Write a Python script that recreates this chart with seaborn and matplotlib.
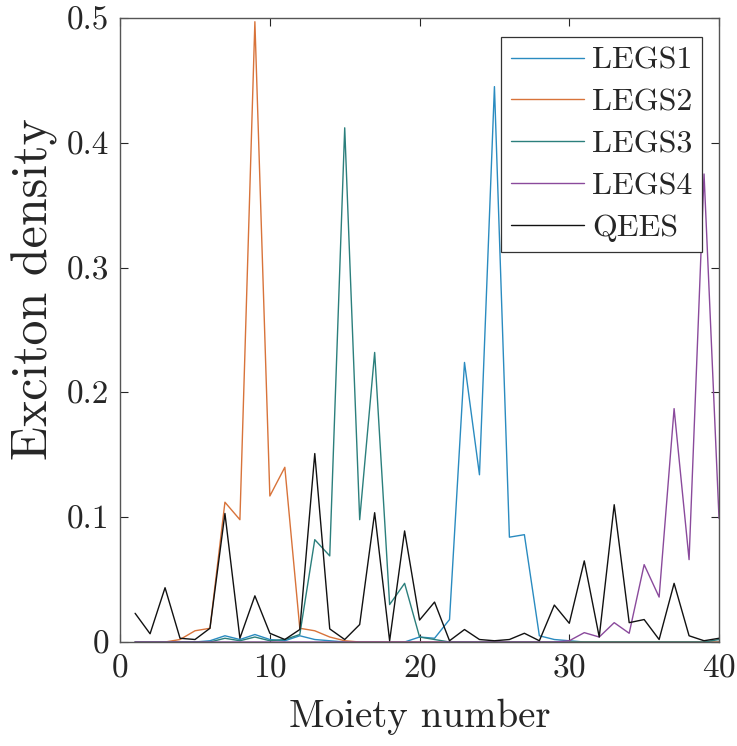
import numpy as np
import pandas as pd
import matplotlib
matplotlib.use("Agg")
import matplotlib.pyplot as plt
import seaborn as sns

# ========== 数据 ==========
moiety = list(range(1, 41))

legs1 = [0, 0, 0, 0, 0, 0.001, 0.005, 0.002, 0.006, 0.002,
         0.001, 0.005, 0.002, 0.001, 0, 0, 0, 0, 0, 0.004,
         0.003, 0.018, 0.224, 0.134, 0.445, 0.084, 0.086, 0.005, 0.002, 0.001,
         0, 0, 0, 0, 0, 0, 0, 0, 0, 0]

legs2 = [0, 0, 0, 0.002, 0.009, 0.011, 0.112, 0.098, 0.497, 0.117,
         0.140, 0.011, 0.009, 0.004, 0.001, 0, 0, 0, 0, 0,
         0, 0, 0, 0, 0, 0, 0, 0, 0, 0,
         0, 0, 0, 0, 0, 0, 0, 0, 0, 0]

legs3 = [0, 0, 0, 0, 0, 0, 0.003, 0.001, 0.004, 0.001,
         0.002, 0.006, 0.082, 0.069, 0.412, 0.098, 0.232, 0.030, 0.047, 0.004,
         0.002, 0, 0, 0, 0, 0, 0, 0, 0, 0,
         0, 0, 0, 0, 0, 0, 0, 0, 0, 0.002]

legs4 = [0, 0, 0, 0, 0, 0, 0, 0, 0, 0,
         0, 0, 0, 0, 0, 0, 0, 0, 0, 0,
         0, 0, 0, 0, 0, 0, 0, 0, 0, 0.001,
         0.0075, 0.004, 0.0155, 0.007, 0.062, 0.036, 0.187, 0.066, 0.375, 0.099]

qees = [0.023, 0.0066, 0.0435, 0.003, 0.002, 0.011, 0.103, 0.003, 0.037, 0.007,
        0.002, 0.010, 0.151, 0.0105, 0.002, 0.014, 0.1036, 0.001, 0.089, 0.0176,
        0.032, 0.001, 0.010, 0.002, 0.001, 0.002, 0.007, 0.001, 0.0296, 0.015,
        0.065, 0.004, 0.110, 0.0155, 0.018, 0.002, 0.047, 0.005, 0.001, 0.003]

labels = ["LEGS1", "LEGS2", "LEGS3", "LEGS4", "QEES"]
colors = {"LEGS1": "#2a8bc0", "LEGS2": "#d8733a", "LEGS3": "#2b7f7c",
          "LEGS4": "#8a4a9c", "QEES": "#111111"}

# 长表格式，方便 seaborn 按 hue 绘制
df = pd.DataFrame({
    "Moiety": moiety * 5,
    "Density": legs1 + legs2 + legs3 + legs4 + qees,
    "State": sum([[lab] * len(moiety) for lab in labels], []),
})

# ========== 绘图 ==========
sns.set_style("ticks")
plt.rcParams["font.family"] = "serif"
plt.rcParams["font.serif"] = ["cmr10", "DejaVu Serif"]
plt.rcParams["axes.formatter.use_mathtext"] = True
plt.rcParams["mathtext.fontset"] = "cm"

fig = plt.figure(figsize=(7.37, 7.46), dpi=100)
ax = fig.add_axes([0.163, 0.1394, 0.8126, 0.8365])

sns.lineplot(data=df, x="Moiety", y="Density", hue="State",
             hue_order=labels, palette=colors, linewidth=1.0,
             estimator=None, ax=ax)

ax.set_xlim(0, 40)
ax.set_ylim(0, 0.5)
ax.set_xticks([0, 10, 20, 30, 40])
ax.set_yticks([0, 0.1, 0.2, 0.3, 0.4, 0.5])
ax.set_yticklabels(["0", "0.1", "0.2", "0.3", "0.4", "0.5"])
ax.set_xlabel("Moiety number", fontsize=28, labelpad=12)
ax.set_ylabel("Exciton density", fontsize=36)
ax.yaxis.set_label_coords(-0.103, 0.566)
ax.tick_params(direction="in", length=6, width=0.8, labelsize=24,
               top=True, right=True, colors="#262626", pad=8)
for s in ax.spines.values():
    s.set_color("#555555")
    s.set_linewidth(1.0)
    s.set_visible(True)

leg = ax.legend(loc="upper right", bbox_to_anchor=(0.9716, 0.9696),
                fontsize=23, frameon=True, fancybox=False,
                handlelength=2.3, handletextpad=0.25, borderpad=0.3,
                labelspacing=0.42, borderaxespad=0)
leg.get_frame().set_edgecolor("#333333")
leg.get_frame().set_linewidth(0.9)
leg.get_frame().set_alpha(1)

fig.savefig("out.png", dpi=100)
